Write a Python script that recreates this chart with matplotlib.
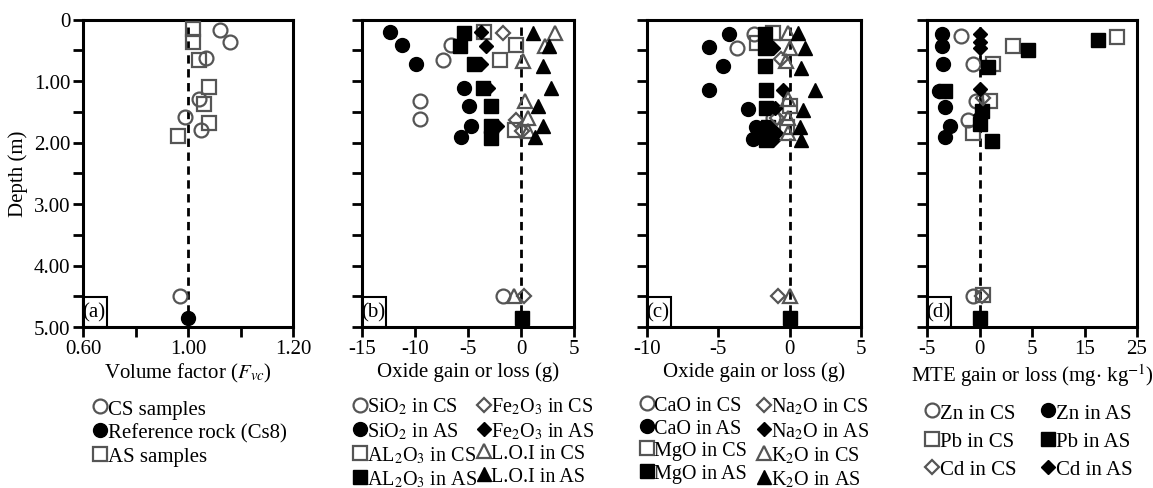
import numpy as np
import matplotlib
matplotlib.use("Agg")
import matplotlib.pyplot as plt
from matplotlib.lines import Line2D
from matplotlib.patches import Rectangle

plt.rcParams["font.family"] = ["Liberation Serif", "DejaVu Serif"]
plt.rcParams["mathtext.fontset"] = "stix"
plt.rcParams["font.size"] = 15

# ---------------- data ----------------
# (a) volume factor
a_cs_x = [1.061, 1.08, 1.035, 1.02, 0.987, 1.024, 0.969]
a_cs_d = [0.17, 0.36, 0.63, 1.30, 1.58, 1.79, 4.49]
a_ref_x = [1.0]
a_ref_d = [4.85]
a_as_x = [1.01, 1.01, 1.02, 1.04, 1.03, 1.04, 0.962]
a_as_d = [0.16, 0.36, 0.66, 1.09, 1.38, 1.69, 1.90]

# (b) major oxides
b_sio2_cs_x = [-6.6, -7.35, -9.5, -9.5, -1.7]
b_sio2_cs_d = [0.41, 0.66, 1.32, 1.62, 4.49]
b_sio2_as_x = [-12.4, -11.2, -9.95, -5.35, -4.9, -4.7, -5.7]
b_sio2_as_d = [0.21, 0.41, 0.72, 1.11, 1.41, 1.73, 1.91]
b_al_cs_x = [-3.5, -0.45, -2.0, -0.6]
b_al_cs_d = [0.20, 0.41, 0.66, 1.79]
b_al_as_x = [-5.35, -5.8, -4.4, -3.6, -2.8, -2.8, -2.8, 0.1]
b_al_as_d = [0.22, 0.43, 0.72, 1.11, 1.41, 1.73, 1.93, 4.86]
b_fe_cs_x = [-1.7, -0.45, 0.05, 0.25]
b_fe_cs_d = [0.22, 1.63, 1.82, 4.50]
b_fe_as_x = [-3.8, -3.3, -3.8, -3.1, -2.3]
b_fe_as_d = [0.20, 0.43, 0.72, 1.11, 1.73]
b_loi_cs_x = [3.2, 2.3, 0.2, 0.35, 0.7, 0.7, -0.7]
b_loi_cs_d = [0.22, 0.43, 0.68, 1.33, 1.60, 1.82, 4.50]
b_loi_as_x = [1.15, 2.6, 2.1, 2.85, 1.6, 2.1, 1.3]
b_loi_as_d = [0.22, 0.43, 0.76, 1.11, 1.41, 1.73, 1.91]

# (c) minor oxides
c_cao_cs_x = [-3.7, -2.5, -1.2]
c_cao_cs_d = [0.46, 0.23, 1.60]
c_cao_as_x = [-4.25, -5.65, -4.7, -5.65, -2.9, -2.35, -2.6]
c_cao_as_d = [0.24, 0.45, 0.76, 1.15, 1.46, 1.74, 1.95]
c_mgo_cs_x = [-2.3, -1.2, 0.0, -0.2]
c_mgo_cs_d = [0.38, 0.22, 1.41, 1.75]
c_mgo_as_x = [-1.75, -1.75, -1.75, -1.65, -1.65, -1.5, -1.65, 0.0]
c_mgo_as_d = [0.23, 0.46, 0.76, 1.14, 1.44, 1.74, 1.96, 4.86]
c_na_cs_x = [-0.6, -0.9, -0.85]
c_na_cs_d = [0.65, 1.60, 4.50]
c_na_as_x = [-1.15, -0.5, -1.05, -0.95, -1.15]
c_na_as_d = [0.46, 1.14, 1.44, 1.85, 1.96]
c_k_cs_x = [-0.1, 0.0, -0.25, -0.1, -0.1, -0.1, 0.0]
c_k_cs_d = [0.22, 0.46, 0.68, 1.30, 1.60, 1.85, 4.50]
c_k_as_x = [0.6, 1.05, 0.8, 1.75, 0.95, 0.7, 0.8]
c_k_as_d = [0.22, 0.46, 0.79, 1.14, 1.47, 1.74, 1.96]

# (d) trace elements (MTE)
d_zn_cs_x = [-1.8, -0.6, -0.3, -1.1, -0.6]
d_zn_cs_d = [0.27, 0.72, 1.33, 1.63, 4.49]
d_zn_as_x = [-3.6, -3.6, -3.45, -3.9, -3.3, -2.85, -3.3]
d_zn_as_d = [0.24, 0.43, 0.72, 1.16, 1.42, 1.73, 1.91]
d_pb_cs_x = [21.1, 3.2, 1.3, 1.0, -0.6, 0.35]
d_pb_cs_d = [0.28, 0.43, 0.72, 1.33, 1.85, 4.48]
d_pb_as_x = [17.6, 4.65, 0.85, -3.3, 0.2, 0.0, 1.15, 0.0]
d_pb_as_d = [0.33, 0.49, 0.78, 1.16, 1.48, 1.70, 1.97, 4.85]
d_cd_cs_x = [0.3, 0.2]
d_cd_cs_d = [1.28, 4.50]
d_cd_as_x = [0.0, 0.0, 0.0, 0.0, 0.0]
d_cd_as_d = [0.24, 0.36, 0.46, 1.13, 1.55]

depth_ticks = np.arange(0, 5.01, 0.5)
depth_labels = ["0" if v == 0 else (f"{v:.2f}" if v == int(v) else "") for v in depth_ticks]

OPEN = "#555555"

fig = plt.figure(figsize=(11.53, 4.89), dpi=100)
W, H = 1153, 489


def px_axes(left, right, top=20.5, bottom=328):
    return fig.add_axes([left / W, 1 - bottom / H, (right - left) / W, (bottom - top) / H])


def style(ax, xlabel, letter, show_ylabels=False):
    ax.set_ylim(5, 0)
    ax.set_yticks(depth_ticks)
    ax.set_yticklabels(depth_labels if show_ylabels else [])
    for s in ax.spines.values():
        s.set_linewidth(2.2)
    ax.tick_params(axis="both", direction="out", length=7, width=2, labelsize=15, pad=2)
    ax.set_xlabel(xlabel, fontsize=15, labelpad=2)
    bw, bh = 24 / 211, 30 / 307.5
    ax.add_patch(Rectangle((0, 0), bw, bh, transform=ax.transAxes, fill=False,
                           edgecolor="black", linewidth=1.5, zorder=6, clip_on=False))
    ax.text(bw / 2 - 0.005, bh / 2, letter, transform=ax.transAxes, ha="center", va="center",
            fontsize=15, zorder=7)


def pts(ax, x, d, marker, filled, ms, z=3):
    if filled:
        ax.plot(x, d, linestyle="none", marker=marker, ms=ms, mfc="black", mec="black", mew=1, zorder=z)
    else:
        ax.plot(x, d, linestyle="none", marker=marker, ms=ms, mfc="none", mec=OPEN, mew=1.6, zorder=z)


def vline(ax, x0):
    ax.axvline(x0, color="black", linestyle=(0, (3, 2)), linewidth=2, zorder=1)


MS = {"o": 10, "s": 10, "D": 7.2, "^": 10.5}

# --- (a) ---
ax = px_axes(83, 293)
fa = lambda x: np.where(np.asarray(x) >= 1, x, 1 + (np.asarray(x) - 1) / 2)
ia = lambda y: np.where(np.asarray(y) >= 1, y, 1 + 2 * (np.asarray(y) - 1))
ax.set_xscale("function", functions=(fa, ia))
ax.set_xlim(0.6, 1.2)
ax.set_xticks([0.6, 0.8, 1.0, 1.1, 1.2])
ax.set_xticklabels(["0.60", "", "1.00", "", "1.20"])
vline(ax, 1.0)
pts(ax, a_cs_x, a_cs_d, "o", False, MS["o"])
pts(ax, a_as_x, a_as_d, "s", False, MS["s"])
pts(ax, a_ref_x, a_ref_d, "o", True, MS["o"])
style(ax, "Volume factor ($F_{vc}$)", "(a)", show_ylabels=True)
ax.set_ylabel("Depth (m)", fontsize=15, labelpad=4)

# --- (b) ---
ax = px_axes(362, 574)
ax.set_xlim(-15, 5)
ax.set_xticks([-15, -10, -5, 0, 5])
ax.set_xticklabels(["-15", "-10", "-5", "0", "5"])
vline(ax, 0)
pts(ax, b_sio2_cs_x, b_sio2_cs_d, "o", False, MS["o"])
pts(ax, b_sio2_as_x, b_sio2_as_d, "o", True, MS["o"])
pts(ax, b_al_cs_x, b_al_cs_d, "s", False, MS["s"])
pts(ax, b_al_as_x, b_al_as_d, "s", True, MS["s"])
pts(ax, b_fe_cs_x, b_fe_cs_d, "D", False, MS["D"])
pts(ax, b_fe_as_x, b_fe_as_d, "D", True, MS["D"])
pts(ax, b_loi_cs_x, b_loi_cs_d, "^", False, MS["^"])
pts(ax, b_loi_as_x, b_loi_as_d, "^", True, MS["^"])
style(ax, "Oxide gain or loss (g)", "(b)")

# --- (c) ---
ax = px_axes(647, 861)
ax.set_xlim(-10, 5)
ax.set_xticks([-10, -5, 0, 5])
ax.set_xticklabels(["-10", "-5", "0", "5"])
vline(ax, 0)
pts(ax, c_cao_cs_x, c_cao_cs_d, "o", False, MS["o"])
pts(ax, c_cao_as_x, c_cao_as_d, "o", True, MS["o"])
pts(ax, c_mgo_cs_x, c_mgo_cs_d, "s", False, MS["s"])
pts(ax, c_mgo_as_x, c_mgo_as_d, "s", True, MS["s"])
pts(ax, c_na_cs_x, c_na_cs_d, "D", False, MS["D"])
pts(ax, c_na_as_x, c_na_as_d, "D", True, MS["D"])
pts(ax, c_k_cs_x, c_k_cs_d, "^", False, MS["^"])
pts(ax, c_k_as_x, c_k_as_d, "^", True, MS["^"])
style(ax, "Oxide gain or loss (g)", "(c)")

# --- (d) ---
ax = px_axes(927, 1137)
fd = lambda x: np.where(np.asarray(x) <= 5, x, 5 + (np.asarray(x) - 5) / 2)
idf = lambda y: np.where(np.asarray(y) <= 5, y, 5 + 2 * (np.asarray(y) - 5))
ax.set_xscale("function", functions=(fd, idf))
ax.set_xlim(-5, 25)
ax.set_xticks([-5, 0, 5, 15, 25])
ax.set_xticklabels(["-5", "0", "5", "15", "25"])
vline(ax, 0)
pts(ax, d_zn_cs_x, d_zn_cs_d, "o", False, MS["o"])
pts(ax, d_zn_as_x, d_zn_as_d, "o", True, MS["o"])
pts(ax, d_pb_cs_x, d_pb_cs_d, "s", False, MS["s"])
pts(ax, d_pb_as_x, d_pb_as_d, "s", True, MS["s"])
pts(ax, d_cd_cs_x, d_cd_cs_d, "D", False, MS["D"])
pts(ax, d_cd_as_x, d_cd_as_d, "D", True, MS["D"])
style(ax, "MTE gain or loss (mg$\\cdot$ kg$^{-1}$)", "(d)")


# --- legends below panels ---
def h(marker, filled, label):
    if filled:
        return Line2D([], [], linestyle="none", marker=marker, ms=MS[marker], mfc="black",
                      mec="black", label=label)
    return Line2D([], [], linestyle="none", marker=marker, ms=MS[marker], mfc="none",
                  mec=OPEN, mew=1.6, label=label)


def leg(handles, left_px, top_px, spacing, size=15):
    fig.legend(handles=handles, loc="upper left", bbox_to_anchor=(left_px / W, 1 - top_px / H),
               bbox_transform=fig.transFigure, frameon=False, fontsize=size, handlelength=0.7,
               handletextpad=0.0, labelspacing=spacing, borderpad=0, borderaxespad=0)


leg([h("o", False, "CS samples"), h("o", True, "Reference rock (Cs8)"),
     h("s", False, "AS samples")], 93, 400, 0.21)

leg([h("o", False, "SiO$_2$ in CS"), h("o", True, "SiO$_2$ in AS"),
     h("s", False, "AL$_2$O$_3$ in CS"), h("s", True, "AL$_2$O$_3$ in AS")], 353, 397, 0.17, 14.5)
leg([h("D", False, "Fe$_2$O$_3$ in CS"), h("D", True, "Fe$_2$O$_3$ in AS"),
     h("^", False, "L.O.I in CS"), h("^", True, "L.O.I in AS")], 477, 397, 0.17, 14.5)

leg([h("o", False, "CaO in CS"), h("o", True, "CaO in AS"),
     h("s", False, "MgO in CS"), h("s", True, "MgO in AS")], 640, 397, 0.17, 14.5)
leg([h("D", False, "Na$_2$O in CS"), h("D", True, "Na$_2$O in AS"),
     h("^", False, "K$_2$O in CS"), h("^", True, "K$_2$O in AS")], 757, 397, 0.17, 14.5)

leg([h("o", False, "Zn in CS"), h("s", False, "Pb in CS"), h("D", False, "Cd in CS")],
    925, 404, 0.42)
leg([h("o", True, "Zn in AS"), h("s", True, "Pb in AS"), h("D", True, "Cd in AS")],
    1041, 404, 0.42)

fig.savefig("out.png", dpi=100)
